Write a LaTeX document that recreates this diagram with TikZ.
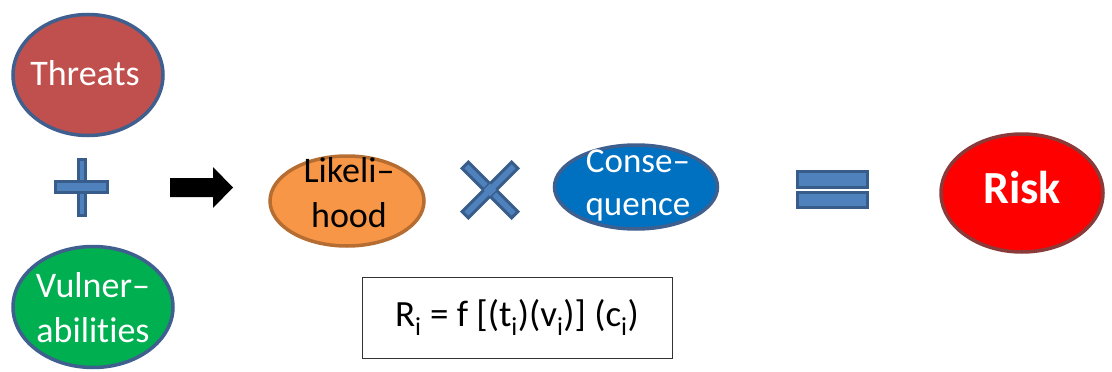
\documentclass[tikz,border=0pt]{standalone}
\usepackage{fontspec}
\setmainfont{Carlito}[Ligatures=NoCommon]
\usetikzlibrary{shapes.geometric}
\definecolor{bblue}{HTML}{3F5F8F}
\definecolor{sblue}{HTML}{4F81BD}
\definecolor{dblue}{HTML}{385D8A}
\definecolor{tred}{HTML}{C0504D}
\definecolor{vgreen}{HTML}{00B050}
\definecolor{lorange}{HTML}{F79646}
\definecolor{lborder}{HTML}{B66D31}
\definecolor{cblue}{HTML}{0070C0}
\definecolor{rborder}{HTML}{8B3A3A}
\tikzset{
  oval/.style={ellipse, line width=3.5pt, inner sep=0pt},
  lbl/.style={inner sep=0pt, align=center, font=\fontsize{36}{45}\selectfont},
  symb/.style={fill=sblue, draw=dblue, line width=3pt}
}
\begin{document}
\begin{tikzpicture}[x=1pt,y=-1pt]
\useasboundingbox (0,0) rectangle (1112,372);
\node[oval, fill=tred, draw=bblue, minimum width=150pt, minimum height=121pt] (threats) at (88,75) {};
\node[lbl, text=white] (threatsT) at (85,73) {Threats};
\node[oval, fill=vgreen, draw=bblue, minimum width=160pt, minimum height=121pt] (vuln) at (93,307) {};
\node[lbl, text=white] (vulnT) at (93,308) {Vulner–\\abilities};
% plus
\path[symb] (78,159) rectangle (85,215);
\path[symb] (55,181) rectangle (107,192);
\fill[sblue] (78,183) rectangle (85,190);
% arrow
\fill[black] (170,178) -- (213,178) -- (213,167) -- (233,187.5) -- (213,208) -- (213,197) -- (170,197) -- cycle;
\node[oval, fill=lorange, draw=lborder, minimum width=154pt, minimum height=90pt] (like) at (347,201) {};
\node[lbl, text=black] (likeT) at (349,193) {Likeli–\\hood};
% times
\begin{scope}[shift={(490,190)}, rotate=45]
\path[symb] (-4.5,-35) rectangle (4.5,35);
\path[symb] (-35,-4.5) rectangle (35,4.5);
\fill[sblue] (-4.5,-4.5) rectangle (4.5,4.5);
\end{scope}
\node[oval, fill=cblue, draw=bblue, minimum width=163pt, minimum height=84pt] (cons) at (636,187) {};
\node[lbl, text=white, font=\fontsize{35}{43}\selectfont] (consT) at (638,185) {Conse–\\quence};
% equals
\path[symb] (797,171) rectangle (867,187);
\path[symb] (797,192) rectangle (867,207);
\node[oval, fill=red, draw=rborder, minimum width=162pt, minimum height=118pt] (risk) at (1022,193) {};
\node[lbl, text=white, font=\fontsize{46}{50}\selectfont\bfseries] (riskT) at (1022,188) {Risk};
\node[draw=black!80, line width=1pt, minimum width=310pt, minimum height=81pt, font=\fontsize{37}{42}\selectfont] (formula) at (517,317.5) {R\textsubscript{i} = f [(t\textsubscript{i})(v\textsubscript{i})] (c\textsubscript{i})};
\end{tikzpicture}
\end{document}
